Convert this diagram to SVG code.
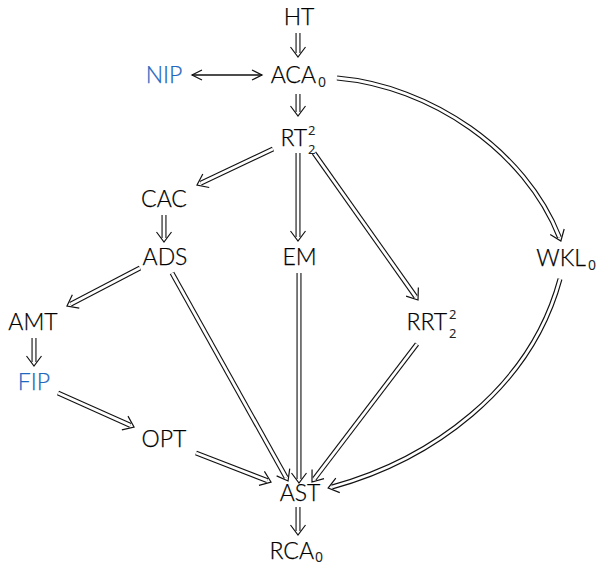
<svg xmlns="http://www.w3.org/2000/svg" width="600" height="566" viewBox="0 0 600 566">
  <style>
    text { font-family: Lato, "Noto Sans", "DejaVu Sans", sans-serif; font-size: 23px; font-weight: 300; fill: #000; stroke: #000; stroke-width: 0.25; }
    text.blue { fill: #1f68c0; stroke: #1f68c0; }
    text.idx { font-family: "Noto Sans", "Open Sans", sans-serif; font-size: 14px; font-weight: 400; stroke-width: 0; fill: #222; }
    text.script { font-size: 13px; }
    .outer { fill: none; stroke: #111; stroke-width: 5; }
    .inner { fill: none; stroke: #fff; stroke-width: 2.8; }
    .single { fill: none; stroke: #111; stroke-width: 1.3; }
  </style>
  <defs>
    <!-- open chevron head for double-line implication arrows -->
    <marker id="imp" markerUnits="userSpaceOnUse" orient="auto" markerWidth="30" markerHeight="30" refX="0" refY="0" viewBox="-15 -15 30 30" overflow="visible">
      <path d="M-6,-7.5 L4,0 L-6,7.5" fill="none" stroke="#111" stroke-width="1.2"/>
    </marker>
    <!-- open chevron head for single lines -->
    <marker id="tip" markerUnits="userSpaceOnUse" orient="auto-start-reverse" markerWidth="30" markerHeight="30" refX="0" refY="0" viewBox="-15 -15 30 30" overflow="visible">
      <path d="M-10,-5 L0,0 L-10,5" fill="none" stroke="#111" stroke-width="1.2"/>
    </marker>
  </defs>

  <g id="connectors">
    <g class="edges-outer">
      <path class="outer" marker-end="url(#imp)" d="M298,33 L298,53"/>
      <path class="outer" marker-end="url(#imp)" d="M298,94 L298,112"/>
      <path class="outer" marker-end="url(#imp)" d="M273,149 L200.6,183.3"/>
      <path class="outer" marker-end="url(#imp)" d="M298,153 L298,237"/>
      <path class="outer" marker-end="url(#imp)" d="M314,153 L415.7,296.7"/>
      <path class="outer" marker-end="url(#imp)" d="M337,78 C430,86 525,150 559.4,237.3"/>
      <path class="outer" marker-end="url(#imp)" d="M164,215 L164,238"/>
      <path class="outer" marker-end="url(#imp)" d="M140,268 L70.5,304.2"/>
      <path class="outer" marker-end="url(#imp)" d="M172,273 L286.1,477.5"/>
      <path class="outer" marker-end="url(#imp)" d="M299,273 L299,479"/>
      <path class="outer" marker-end="url(#imp)" d="M560,279 C530,390 430,460 332,487"/>
      <path class="outer" marker-end="url(#imp)" d="M417,344 L314.4,478.8"/>
      <path class="outer" marker-end="url(#imp)" d="M34,338 L34,362"/>
      <path class="outer" marker-end="url(#imp)" d="M58,393 L130.4,425.4"/>
      <path class="outer" marker-end="url(#imp)" d="M196,453 L267.3,480.6"/>
      <path class="outer" marker-end="url(#imp)" d="M298,507 L298,531"/>
    </g>
    <g class="edges-inner">
      <path class="inner" d="M298,33 L298,53"/>
      <path class="inner" d="M298,94 L298,112"/>
      <path class="inner" d="M273,149 L200.6,183.3"/>
      <path class="inner" d="M298,153 L298,237"/>
      <path class="inner" d="M314,153 L415.7,296.7"/>
      <path class="inner" d="M337,78 C430,86 525,150 559.4,237.3"/>
      <path class="inner" d="M164,215 L164,238"/>
      <path class="inner" d="M140,268 L70.5,304.2"/>
      <path class="inner" d="M172,273 L286.1,477.5"/>
      <path class="inner" d="M299,273 L299,479"/>
      <path class="inner" d="M560,279 C530,390 430,460 332,487"/>
      <path class="inner" d="M417,344 L314.4,478.8"/>
      <path class="inner" d="M34,338 L34,362"/>
      <path class="inner" d="M58,393 L130.4,425.4"/>
      <path class="inner" d="M196,453 L267.3,480.6"/>
      <path class="inner" d="M298,507 L298,531"/>
    </g>
    <path class="single" marker-start="url(#tip)" marker-end="url(#tip)" d="M192,75 L262,75"/>
  </g>

  <g id="HT"><text x="299" y="25" text-anchor="middle">HT</text></g>
  <g id="NIP"><text class="blue" x="164" y="83" text-anchor="middle">NIP</text></g>
  <g id="ACA0"><text x="316" y="83" text-anchor="end">ACA</text><text class="idx" x="318" y="87">0</text></g>
  <g id="RT22"><text x="307" y="146" text-anchor="end">RT</text><text class="idx script" x="308" y="135">2</text><text class="idx script" x="308" y="154">2</text></g>
  <g id="CAC"><text x="164" y="207" text-anchor="middle">CAC</text></g>
  <g id="ADS"><text x="165" y="265" text-anchor="middle">ADS</text></g>
  <g id="EM"><text x="299.5" y="265" text-anchor="middle">EM</text></g>
  <g id="WKL0"><text x="586" y="266" text-anchor="end">WKL</text><text class="idx" x="588" y="270">0</text></g>
  <g id="AMT"><text x="33" y="330" text-anchor="middle">AMT</text></g>
  <g id="RRT22"><text x="447" y="330" text-anchor="end">RRT</text><text class="idx script" x="449" y="319">2</text><text class="idx script" x="449" y="338">2</text></g>
  <g id="FIP"><text class="blue" x="34" y="390" text-anchor="middle">FIP</text></g>
  <g id="OPT"><text x="164" y="447" text-anchor="middle">OPT</text></g>
  <g id="AST"><text x="300" y="501" text-anchor="middle">AST</text></g>
  <g id="RCA0"><text x="314" y="559" text-anchor="end">RCA</text><text class="idx" x="315" y="562">0</text></g>
</svg>
